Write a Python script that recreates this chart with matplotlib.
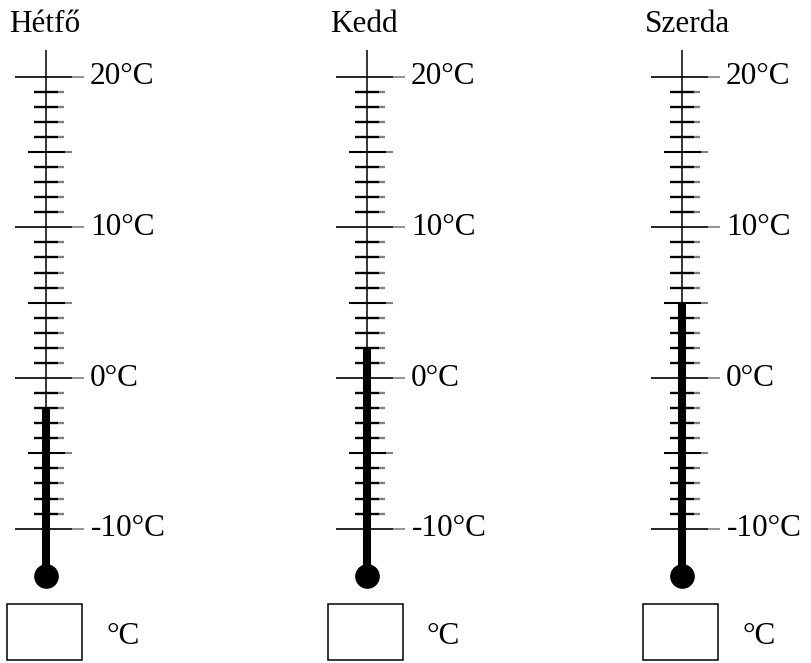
import numpy as np
import matplotlib.pyplot as plt
from matplotlib.patches import Rectangle

plt.rcParams['font.family'] = ['Liberation Serif', 'DejaVu Serif']

days = ['Hétfő', 'Kedd', 'Szerda']
temps = [-2, 2, 5]
scale = np.arange(-10, 21, 1)
label_vals = [20, 10, 0, -10]
label_txt = ['20°C', '10°C', '0°C', '-10°C']

# layout in pixel-ish x units, degrees in y
centers = [46, 367, 682]
px = 15.07  # pixels per degree
zero_y = 378
W, H = 811, 663

fig = plt.figure(figsize=(W / 100, H / 100), dpi=100)
ax = fig.add_axes([0, 0, 1, 1])
ax.set_xlim(0, W)
ax.set_ylim((zero_y - H) / px, zero_y / px)
ax.axis('off')

def ty(y_pix):
	return (zero_y - y_pix) / px

gray = '#808080'
for day, t, cx in zip(days, temps, centers):
	# stem
	ax.plot([cx, cx], [ty(50), ty(570)], color='black', lw=1.1, solid_capstyle='butt')
	# ticks
	for v in scale:
		if v % 10 == 0:
			l, r, lw, g = -31, 38, 1.2, 12
		elif v % 5 == 0:
			l, r, lw, g = -18, 26, 1.5, 7
		else:
			l, r, lw, g = -12, 18, 1.7, 6
		ax.plot([cx + l, cx + r - g], [v, v], color='black', lw=lw, solid_capstyle='butt')
		ax.plot([cx + r - g, cx + r], [v, v], color=gray, lw=lw, solid_capstyle='butt')
	# mercury
	ax.plot([cx, cx], [t, ty(572)], color='black', lw=5.8, solid_capstyle='butt')
	ax.scatter([cx], [ty(576)], s=280, color='black', zorder=5)
	# labels
	for v, s in zip(label_vals, label_txt):
		dx = 44 if v >= 0 else 45
		ax.text(cx + dx, v, s, fontsize=22.5, va='center', ha='left')
	ax.text(cx - 37, ty(24), day, fontsize=22.5, va='center', ha='left')
	# answer box
	ax.add_patch(Rectangle((cx - 39, ty(660)), 75, ty(604) - ty(660), fill=False,
		edgecolor='black', lw=1.1))
	ax.text(cx + 60, ty(636), '°C', fontsize=22.5, va='center', ha='left')

fig.savefig('out.png', dpi=100)
